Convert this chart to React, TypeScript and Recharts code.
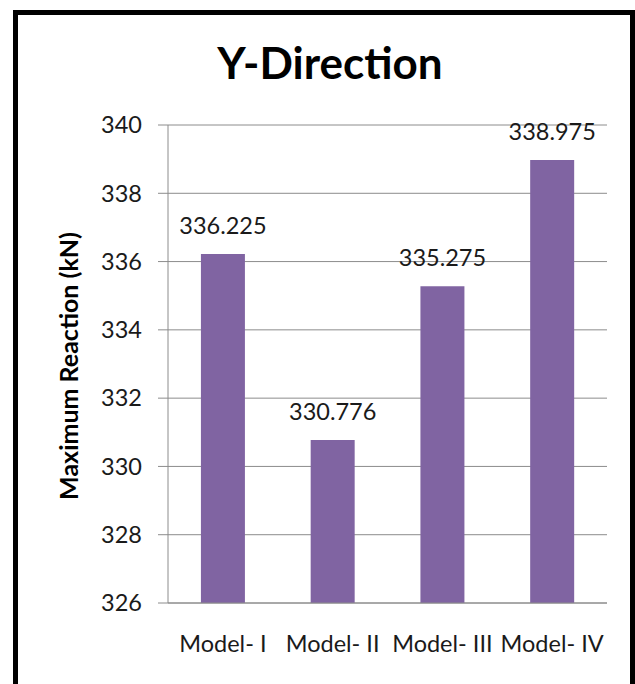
import { BarChart, Bar, XAxis, YAxis, CartesianGrid, LabelList } from "recharts";

const MODELS = ["Model- I", "Model- II", "Model- III", "Model- IV"];
const REACTIONS = [336.225, 330.776, 335.275, 338.975];
const Y_TICKS = [326, 328, 330, 332, 334, 336, 338, 340];
const BOUNDARY_TICKS = [0, 1, 2, 3, 4];

const BAR_COLOR = "#8064A2";
const GRID = "#8c8c8c";
const TEXT = "#1a1a1a";
const FONT = "Lato, 'Open Sans', sans-serif";

const data = MODELS.map((name, i) => ({ name, value: REACTIONS[i] }));

export default function App() {
  return (
    <div
      style={{
        position: "absolute",
        left: 0,
        top: 0,
        width: 635,
        height: 684,
        background: "#fff",
        overflow: "hidden",
        fontFamily: FONT,
      }}
    >
      {/* frame */}
      <div
        style={{
          position: "absolute",
          left: 13,
          top: 10,
          width: 635 - 13 - 5 - 5,
          height: 700,
          border: "5px solid #000",
        }}
      />
      <div
        style={{
          position: "absolute",
          left: 25,
          top: 36,
          width: 610,
          textAlign: "center",
          fontSize: 44,
          fontWeight: 700,
          color: "#000",
        }}
      >
        Y-Direction
      </div>
      <div
        style={{
          position: "absolute",
          left: 68,
          top: 366,
          transform: "translate(-50%, -50%) rotate(-90deg)",
          whiteSpace: "nowrap",
          fontSize: 25,
          fontWeight: 700,
          color: "#000",
        }}
      >
        Maximum Reaction (kN)
      </div>
      <BarChart
        width={635}
        height={684}
        data={data}
        margin={{ top: 125, right: 28, left: 0, bottom: 0 }}
        barCategoryGap="30%"
        style={{ position: "absolute", left: 0, top: 0 }}
      >
        <CartesianGrid vertical={false} stroke={GRID} xAxisId="cat" />
        <XAxis
          xAxisId="ticks"
          type="number"
          domain={[0, 4]}
          ticks={BOUNDARY_TICKS}
          height={0}
          tick={false}
          axisLine={false}
          tickLine={{ stroke: GRID }}
          tickSize={9}
        />
        <XAxis
          xAxisId="cat"
          dataKey="name"
          height={81}
          axisLine={{ stroke: GRID }}
          tickLine={false}
          tickMargin={26}
          tick={{ fill: TEXT, fontSize: 23.5, fontFamily: FONT }}
          interval={0}
        />
        <YAxis
          width={168}
          domain={[326, 340]}
          ticks={Y_TICKS}
          allowDataOverflow
          axisLine={{ stroke: GRID }}
          tickLine={{ stroke: GRID }}
          tickSize={10}
          tickMargin={16}
          tick={{ fill: TEXT, fontSize: 23.5, fontFamily: FONT }}
        />
        <Bar dataKey="value" xAxisId="cat" fill={BAR_COLOR} isAnimationActive={false}>
          <LabelList
            dataKey="value"
            position="top"
            offset={20}
            style={{ fill: TEXT, fontSize: 23.5, fontFamily: FONT }}
            formatter={(v: number) => v.toFixed(3)}
          />
        </Bar>
      </BarChart>
    </div>
  );
}
